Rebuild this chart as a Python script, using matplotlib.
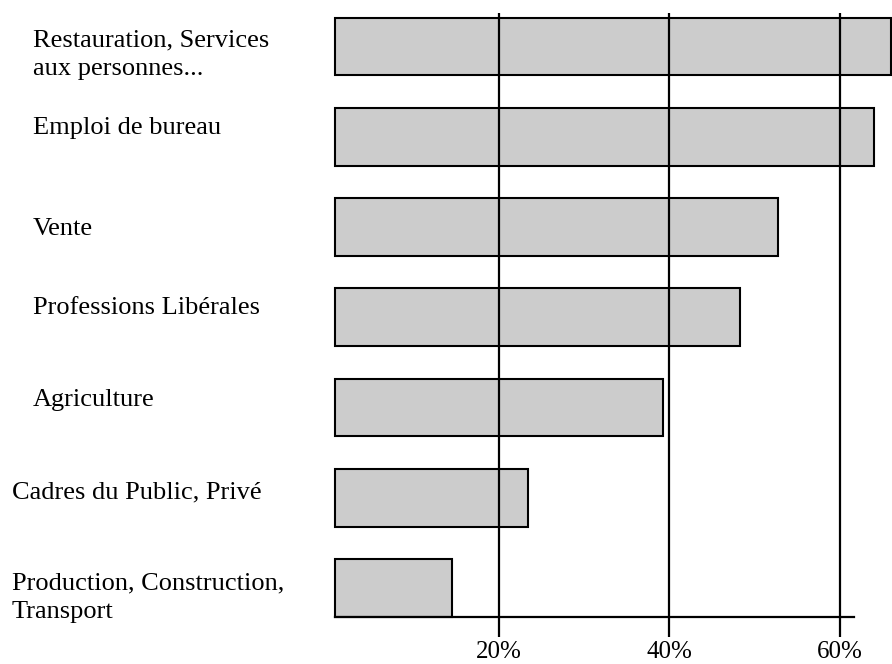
import matplotlib.pyplot as plt
import matplotlib.transforms as mtransforms

# categories bottom -> top
categories = ["Production, Construction,\nTransport",
              "Cadres du Public, Privé",
              "Agriculture",
              "Professions Libérales",
              "Vente",
              "Emploi de bureau",
              "Restauration, Services\naux personnes..."]
values = [14.5, 23.5, 39.3, 48.3, 52.8, 64.0, 66.1]
ticks = [20, 40, 60]
tick_labels = ["20%", "40%", "60%"]

base = 0.8  # bars start slightly right of zero in the original

plt.rcParams['font.family'] = ['Liberation Serif', 'DejaVu Serif']

fig = plt.figure(figsize=(8.92, 6.64), dpi=100)
ax = fig.add_axes([335 / 892, 47 / 664, (854 - 335) / 892, (617 - 13) / 664])

y = list(range(len(categories)))
ax.barh(y, [v - base for v in values], left=base, height=0.64,
        color='#cccccc', edgecolor='black', linewidth=1.5, clip_on=False, zorder=1)

ax.set_xlim(base, 61.7)
ax.set_ylim(-0.32, 6.37)

ax.set_xticks(ticks)
ax.set_xticklabels(tick_labels, fontsize=18)
ax.set_yticks([])
ax.tick_params(axis='x', direction='out', length=14.5, width=1.6, pad=3, color='black')
ax.grid(axis='x', color='black', linewidth=1.6, zorder=3)
ax.set_axisbelow(False)

for s in ['top', 'right', 'left']:
    ax.spines[s].set_visible(False)
ax.spines['bottom'].set_linewidth(1.6)
ax.spines['bottom'].set_zorder(4)

# labels on the left, left-aligned
label_x = [12, 12, 33, 33, 33, 33, 33]
label_dy = [-0.11, 0.06, 0.08, 0.1, -0.02, 0.1, -0.09]
trans = mtransforms.blended_transform_factory(fig.transFigure, ax.transData)
for i, name in enumerate(categories):
    ax.text(label_x[i] / 892, y[i] + label_dy[i], name, transform=trans,
            ha='left', va='center', fontsize=19, linespacing=1.37)

fig.savefig('out.png', dpi=100)
